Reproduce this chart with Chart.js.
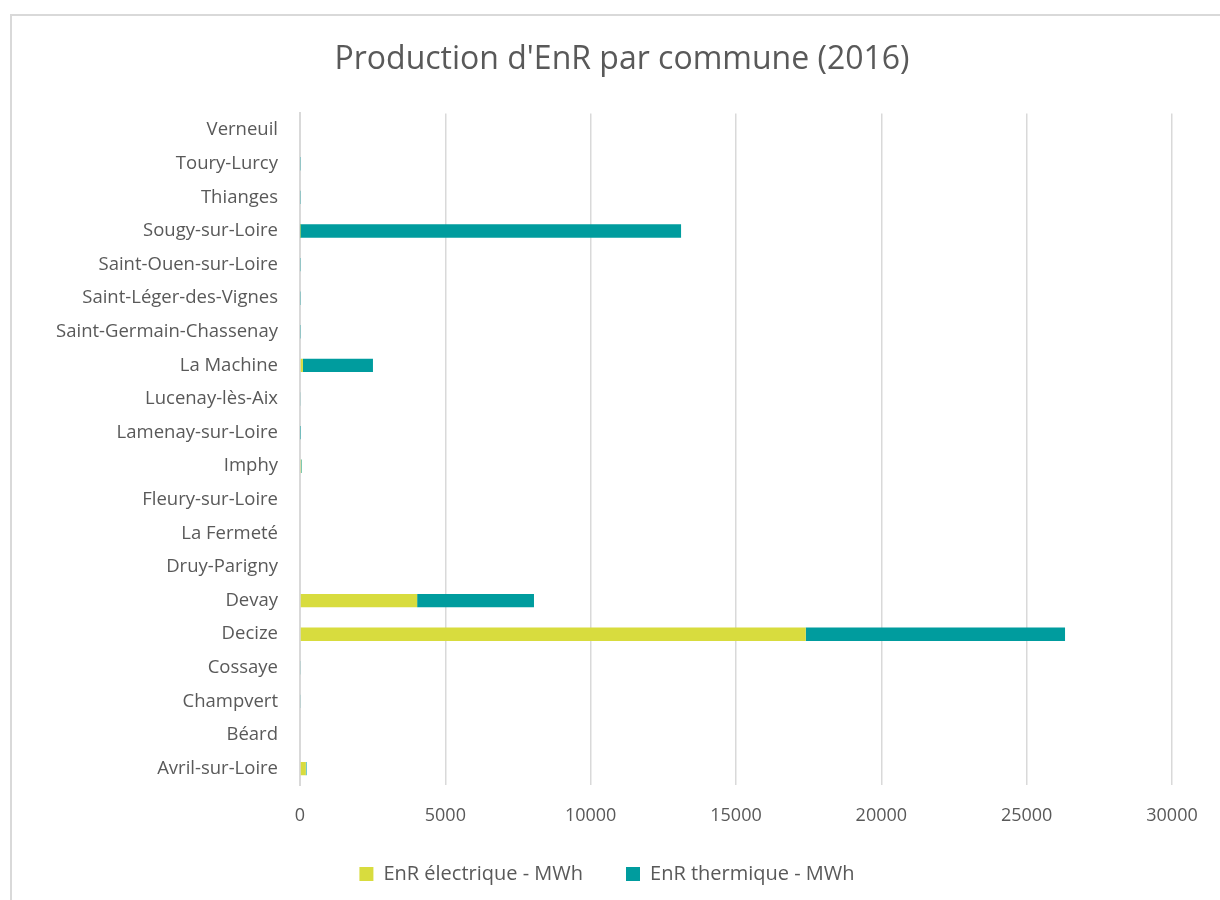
<!DOCTYPE html>
<html>
<head>
<meta charset="utf-8">
<script src="https://cdn.jsdelivr.net/npm/chart.js@4/dist/chart.umd.min.js"></script>
<style>
  body { margin: 0; background: #fff; }
  #frame { position: absolute; left: 10px; top: 14px; width: 1240px; height: 920px; border: 2px solid #d9d9d9; box-sizing: border-box; }
  #wrap { position: absolute; left: 0; top: 0; width: 1220px; height: 900px; }
</style>
</head>
<body>
<div id="frame"></div>
<div id="wrap"><canvas id="myChart" width="1220" height="900"></canvas></div>
<script>
var communes = [
  "Verneuil",
  "Toury-Lurcy",
  "Thianges",
  "Sougy-sur-Loire",
  "Saint-Ouen-sur-Loire",
  "Saint-Léger-des-Vignes",
  "Saint-Germain-Chassenay",
  "La Machine",
  "Lucenay-lès-Aix",
  "Lamenay-sur-Loire",
  "Imphy",
  "Fleury-sur-Loire",
  "La Fermeté",
  "Druy-Parigny",
  "Devay",
  "Decize",
  "Cossaye",
  "Champvert",
  "Béard",
  "Avril-sur-Loire",
];
var enrElectrique = [0, 0, 0, 10, 0, 0, 0, 100, 0, 0, 40, 0, 0, 0, 4030, 17400, 0, 0, 0, 200];
var enrThermique = [0, 15, 15, 13100, 15, 15, 15, 2410, 30, 10, 20, 0, 0, 0, 4020, 8920, 30, 30, 0, 25];
var xTicks = [0, 5000, 10000, 15000, 20000, 25000, 30000];

// the original frame is wider than the window, so title and legend sit a bit right of the canvas centre
var shiftBlocks = {
    id: "shiftBlocks",
    afterLayout: function (chart) {
        if (chart.titleBlock) { chart.titleBlock.left += 36; chart.titleBlock.right += 36; }
        if (chart.legend) { chart.legend.left += 21; chart.legend.right += 21; }
    },
};

var ctx = document.getElementById("myChart").getContext("2d");
var myChart = new Chart(ctx, {
type: "bar",
data: {
    labels: communes,
    datasets: [
    {
        label: "EnR électrique - MWh",
        data: enrElectrique,
        backgroundColor: "#d8dc3e",
    },
    {
        label: "EnR thermique - MWh",
        data: enrThermique,
        backgroundColor: "#009c9e",
    },
    ],
},
options: {
    indexAxis: "y",
    responsive: false,
    animation: false,
    layout: { padding: { top: 41, right: 48, bottom: 6, left: 0 } },
    datasets: { bar: { categoryPercentage: 1, barPercentage: 0.4 } },
    plugins: {
        title: {
            display: true,
            text: "Production d'EnR par commune (2016)",
            color: "#595959",
            font: { family: "'Open Sans'", size: 32, weight: "normal" },
            padding: { top: 0, bottom: 34 },
        },
        legend: {
            position: "bottom",
            labels: {
                color: "#595959",
                font: { family: "'Open Sans'", size: 20 },
                boxWidth: 14,
                boxHeight: 14,
                padding: 17,
                generateLabels: function (chart) {
                    var items = Chart.defaults.plugins.legend.labels.generateLabels(chart);
                    items[0].text += "     ";
                    return items;
                },
            },
        },
        tooltip: { enabled: false },
    },
    scales: {
        x: {
            stacked: true,
            min: 0,
            max: 30000,
            afterBuildTicks: function (scale) {
                scale.ticks = xTicks.map(function (v) { return { value: v }; });
            },
            grid: { color: "#d9d9d9", lineWidth: 1.5, drawTicks: false },
            border: { display: false },
            ticks: {
                color: "#595959",
                font: { family: "'Open Sans'", size: 18 },
                padding: 20,
                maxRotation: 0,
                callback: function (v) { return String(v); },
            },
        },
        y: {
            stacked: true,
            afterFit: function (scale) { scale.width = 300; },
            grid: { display: false, drawTicks: false },
            border: { display: true, color: "#d9d9d9", width: 2 },
            ticks: {
                color: "#595959",
                font: { family: "'Open Sans'", size: 18.5 },
                padding: 22,
                autoSkip: false,
            },
        },
    },
},
plugins: [shiftBlocks],
});
</script>
</body>
</html>
